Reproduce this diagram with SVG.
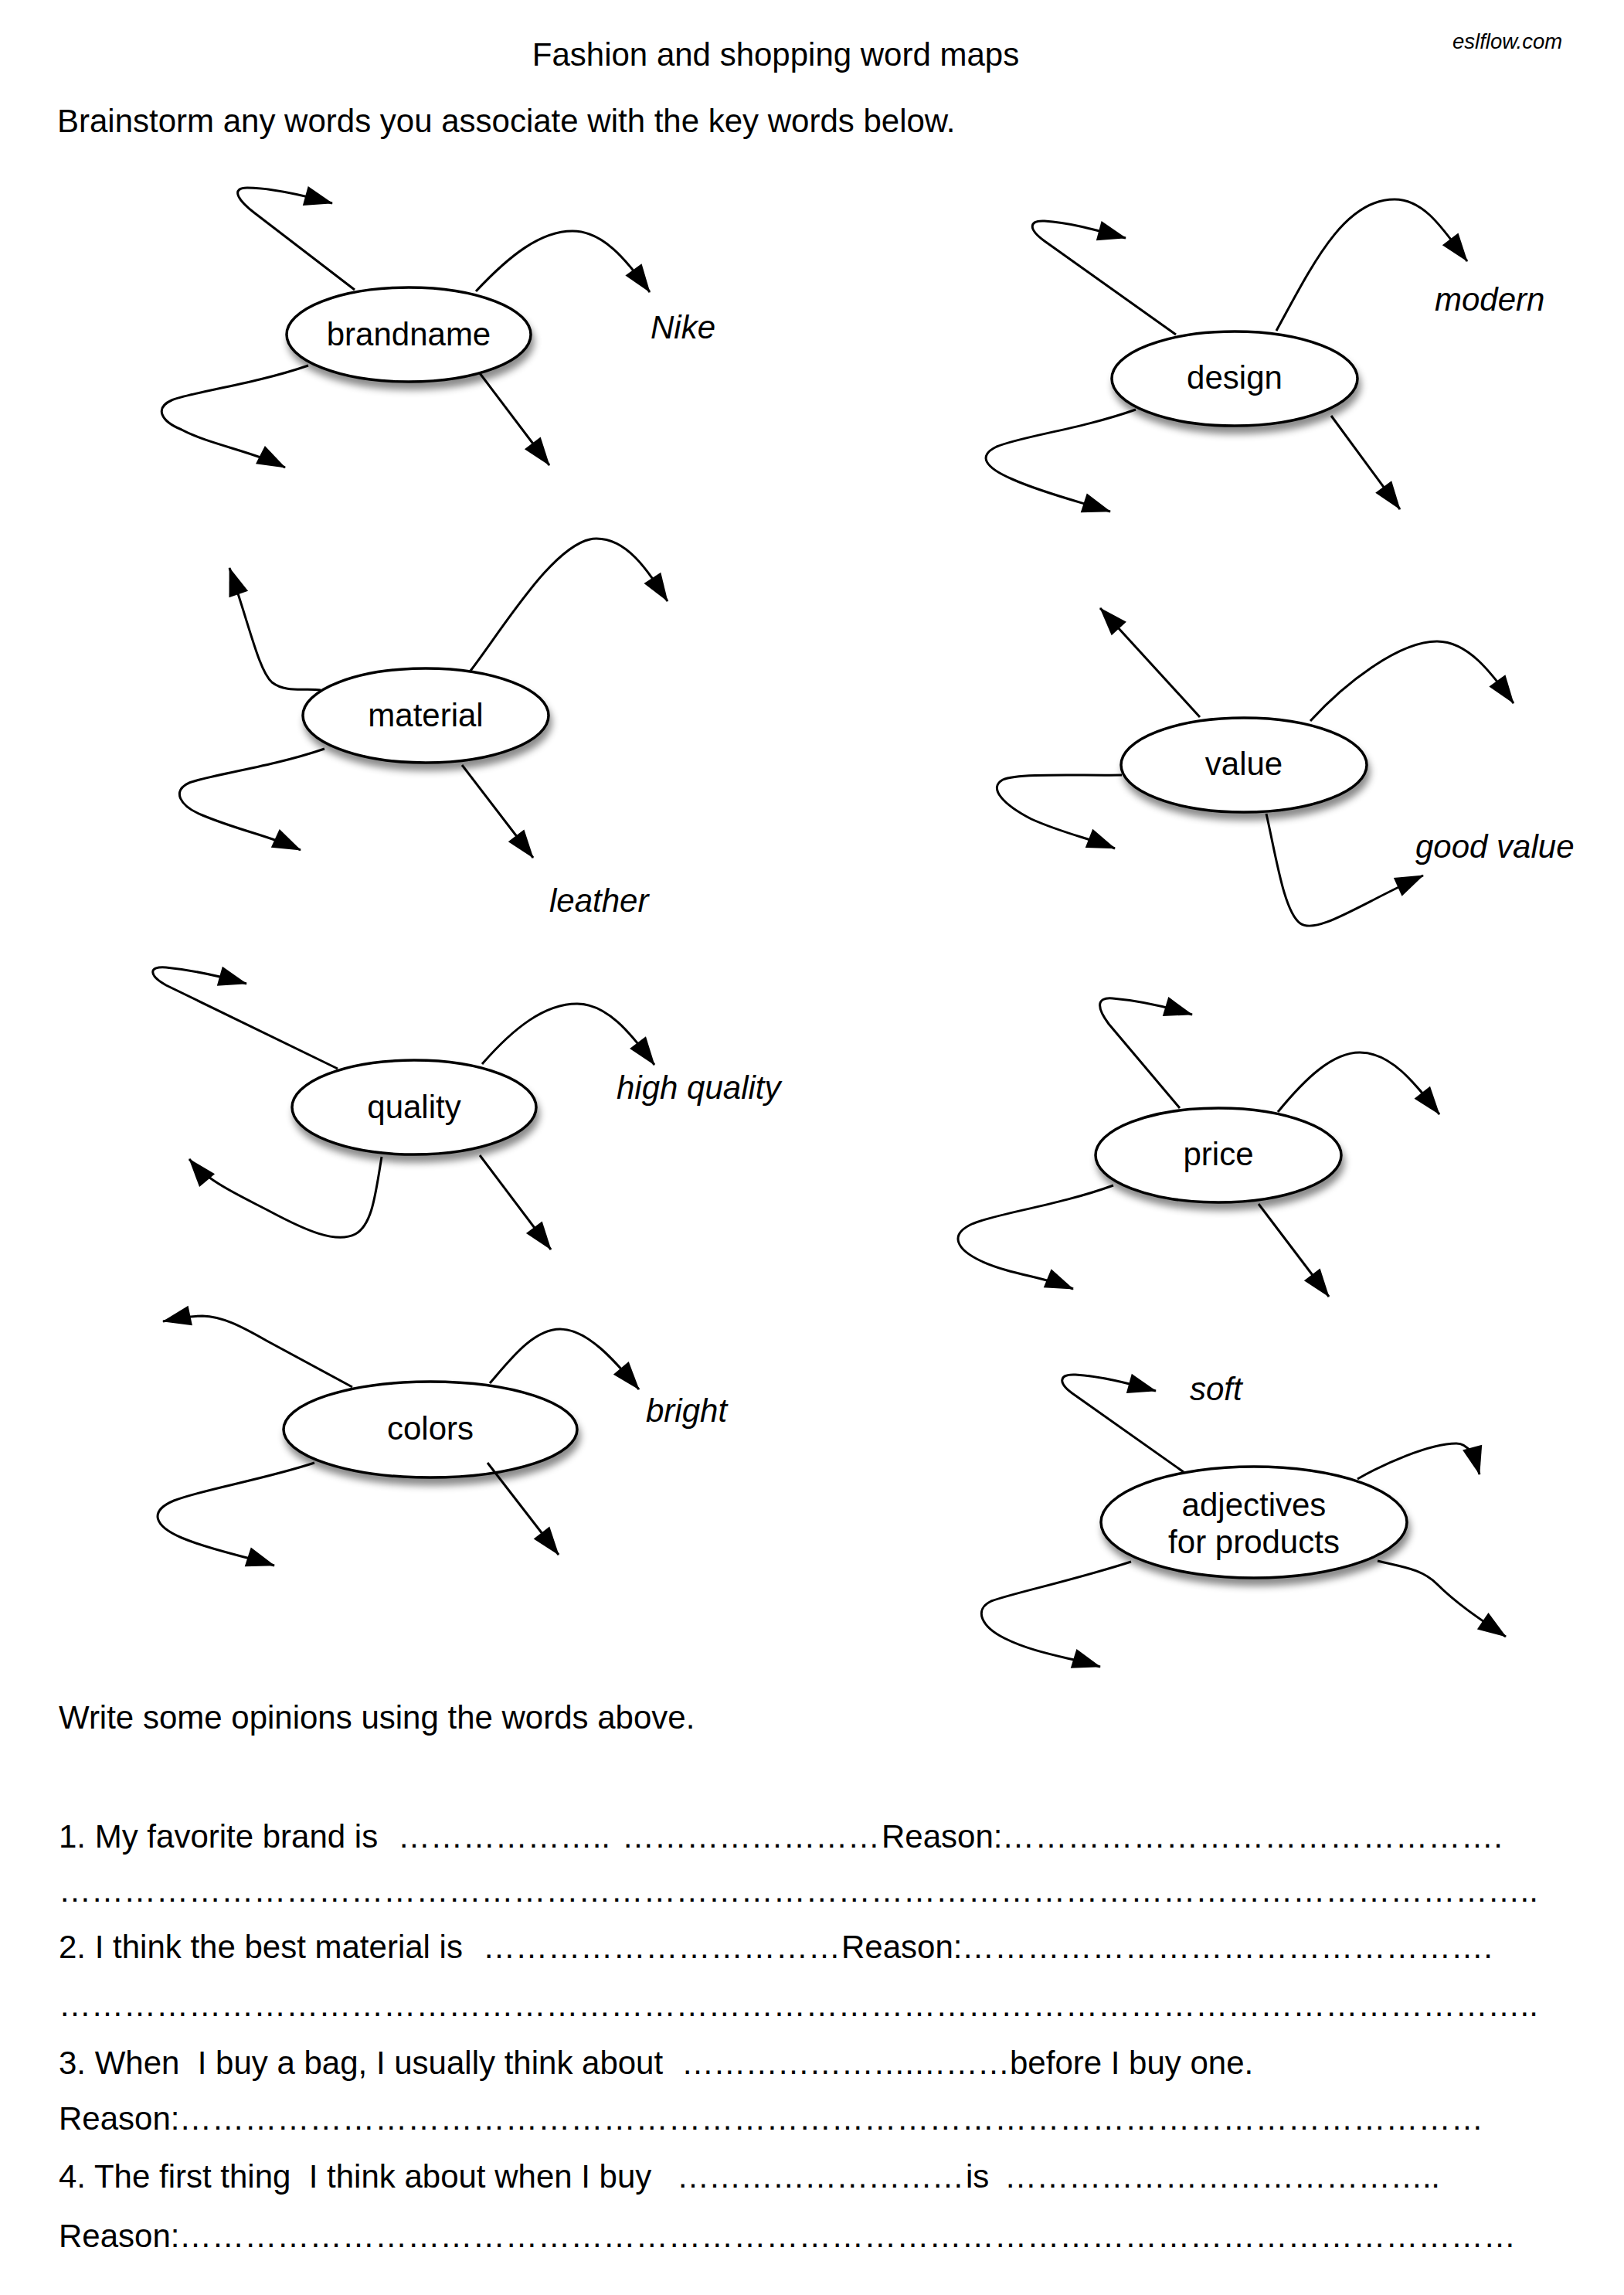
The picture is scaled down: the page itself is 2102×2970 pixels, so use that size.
<svg xmlns="http://www.w3.org/2000/svg" width="2102" height="2970" viewBox="0 0 2102 2970">
<style>
text{font-family:"Liberation Sans",Arial,Helvetica,sans-serif;font-size:42px;fill:#000}
.c{text-anchor:middle}
.it{font-style:italic}
.node ellipse{fill:#fff;stroke:#000;stroke-width:3.5;filter:url(#shadow)}
.conn path{fill:none;stroke:#000;stroke-width:3;marker-end:url(#ah)}
</style>
<defs>
<filter id="shadow" x="-20%" y="-20%" width="140%" height="170%">
<feDropShadow dx="3" dy="9" stdDeviation="5" flood-color="#000" flood-opacity="0.45"/>
</filter>
<marker id="ah" markerUnits="userSpaceOnUse" markerWidth="40" markerHeight="30" refX="36" refY="13" orient="auto" overflow="visible">
<path d="M0,0 L37,13 L0,26 z" fill="#000"/>
</marker>
</defs>
<rect width="2102" height="2970" fill="#fff"/>

<g id="header">
<text x="1004" y="85" class="c">Fashion and shopping word maps</text>
<text x="1880" y="63" class="it" style="font-size:27.5px">eslflow.com</text>
<text x="74" y="171">Brainstorm any words you associate with the key words below.</text>
</g>

<g id="node-brandname" class="node"><ellipse cx="529" cy="433" rx="158" ry="61"/><text x="529" y="447" class="c">brandname</text></g>
<g id="node-design" class="node"><ellipse cx="1598" cy="490" rx="159" ry="61"/><text x="1598" y="503" class="c">design</text></g>
<g id="node-material" class="node"><ellipse cx="551" cy="926" rx="159" ry="61"/><text x="551" y="940" class="c">material</text></g>
<g id="node-value" class="node"><ellipse cx="1610" cy="990" rx="159" ry="61"/><text x="1610" y="1003" class="c">value</text></g>
<g id="node-quality" class="node"><ellipse cx="536" cy="1433" rx="158" ry="61"/><text x="536" y="1447" class="c">quality</text></g>
<g id="node-price" class="node"><ellipse cx="1577" cy="1495" rx="159" ry="61"/><text x="1577" y="1508" class="c">price</text></g>
<g id="node-colors" class="node"><ellipse cx="557" cy="1850" rx="190" ry="62"/><text x="557" y="1863" class="c">colors</text></g>
<g id="node-adjectives" class="node"><ellipse cx="1623" cy="1970" rx="198" ry="72"/><text x="1623" y="1962" class="c">adjectives</text><text x="1623" y="2010" class="c">for products</text></g>

<g id="connectors" class="conn">
<path d="M459,375 L330,276 C305,257 300,243 320,243 C350,243 390,252 430,263"/>
<path d="M616,377 C660,330 700,299 741,299 C780,299 810,335 841,378"/>
<path d="M399,473 C330,497 245,508 222,518 C200,528 208,545 235,556 C270,575 330,585 369,605"/>
<path d="M621,483 L711,602"/>
<path d="M1522,433 L1352,312 C1330,296 1332,285 1352,286 C1385,288 1420,298 1457,308"/>
<path d="M1652,428 C1700,340 1740,258 1805,258 C1845,258 1870,300 1899,338"/>
<path d="M1470,530 C1400,555 1320,565 1290,578 C1265,590 1275,605 1310,620 C1350,638 1400,650 1437,662"/>
<path d="M1723,538 L1812,659"/>
<path d="M415,893 C395,890 370,897 352,883 C335,868 323,810 297,735"/>
<path d="M609,868 C650,815 720,697 772,697 C812,697 838,738 864,778"/>
<path d="M420,969 C350,993 270,1003 245,1013 C222,1023 232,1043 262,1055 C310,1075 350,1082 389,1100"/>
<path d="M598,990 L690,1110"/>
<path d="M1553,928 L1424,787"/>
<path d="M1696,933 C1740,885 1810,830 1860,830 C1900,830 1930,870 1959,910"/>
<path d="M1452,1003 C1400,1004 1318,1000 1298,1009 C1278,1020 1300,1042 1335,1060 C1375,1078 1410,1085 1443,1098"/>
<path d="M1639,1053 C1652,1110 1662,1180 1683,1195 C1705,1210 1760,1170 1842,1133"/>
<path d="M437,1383 L215,1275 C192,1262 192,1250 215,1252 C245,1255 280,1262 319,1273"/>
<path d="M624,1377 C665,1330 705,1299 747,1299 C785,1299 815,1335 847,1378"/>
<path d="M494,1497 C486,1545 482,1585 460,1597 C435,1610 395,1592 350,1568 C310,1547 270,1530 245,1500"/>
<path d="M621,1495 L713,1617"/>
<path d="M1527,1434 L1435,1325 C1420,1305 1418,1290 1440,1292 C1475,1295 1510,1303 1543,1313"/>
<path d="M1654,1439 C1690,1395 1725,1362 1760,1362 C1800,1362 1830,1400 1863,1442"/>
<path d="M1441,1534 C1370,1560 1290,1570 1258,1584 C1228,1598 1238,1617 1270,1632 C1310,1650 1350,1652 1389,1668"/>
<path d="M1629,1558 L1720,1678"/>
<path d="M456,1795 L345,1735 C310,1715 288,1704 262,1703 C245,1703 230,1706 211,1710"/>
<path d="M634,1790 C660,1760 690,1720 725,1720 C760,1720 795,1760 827,1798"/>
<path d="M407,1893 C340,1915 260,1928 225,1942 C192,1956 200,1975 235,1990 C275,2007 315,2013 355,2026"/>
<path d="M631,1893 L723,2012"/>
<path d="M1532,1905 L1392,1806 C1368,1790 1370,1778 1392,1779 C1425,1781 1460,1790 1496,1800"/>
<path d="M1757,1914 C1790,1895 1850,1868 1885,1868 C1900,1868 1908,1882 1915,1908"/>
<path d="M1783,2020 C1815,2028 1840,2030 1860,2050 C1885,2075 1915,2095 1949,2118"/>
<path d="M1464,2021 C1390,2045 1310,2062 1283,2072 C1260,2083 1270,2105 1300,2120 C1340,2140 1385,2145 1424,2157"/>
</g>

<g id="examples">
<text x="842" y="438" class="it">Nike</text>
<text x="1857" y="402" class="it">modern</text>
<text x="711" y="1180" class="it">leather</text>
<text x="1832" y="1110" class="it">good value</text>
<text x="798" y="1422" class="it">high quality</text>
<text x="836" y="1840" class="it">bright</text>
<text x="1540" y="1812" class="it">soft</text>
</g>

<g id="opinions">
<text x="76" y="2237">Write some opinions using the words above.</text>

<text x="76" y="2391">1. My favorite brand is</text>
<text x="515" y="2391" textLength="275" lengthAdjust="spacing">&#8230;&#8230;&#8230;&#8230;&#8230;&#8230;..</text>
<text x="805" y="2391" textLength="334" lengthAdjust="spacing">&#8230;&#8230;&#8230;&#8230;&#8230;&#8230;&#8230;&#8230;</text>
<text x="1141" y="2391">Reason:</text>
<text x="1297" y="2391" textLength="648" lengthAdjust="spacing">&#8230;&#8230;&#8230;&#8230;&#8230;&#8230;&#8230;&#8230;&#8230;&#8230;&#8230;&#8230;&#8230;&#8230;&#8230;.</text>

<text x="76" y="2461" textLength="1915" lengthAdjust="spacing">&#8230;&#8230;&#8230;&#8230;&#8230;&#8230;&#8230;&#8230;&#8230;&#8230;&#8230;&#8230;&#8230;&#8230;&#8230;&#8230;&#8230;&#8230;&#8230;&#8230;&#8230;&#8230;&#8230;&#8230;&#8230;&#8230;&#8230;&#8230;&#8230;&#8230;&#8230;&#8230;&#8230;&#8230;&#8230;&#8230;&#8230;&#8230;&#8230;&#8230;&#8230;&#8230;&#8230;&#8230;&#8230;..</text>

<text x="76" y="2534">2. I think the best material is</text>
<text x="625" y="2534" textLength="463" lengthAdjust="spacing">&#8230;&#8230;&#8230;&#8230;&#8230;&#8230;&#8230;&#8230;&#8230;&#8230;&#8230;</text>
<text x="1089" y="2534">Reason:</text>
<text x="1245" y="2534" textLength="687" lengthAdjust="spacing">&#8230;&#8230;&#8230;&#8230;&#8230;&#8230;&#8230;&#8230;&#8230;&#8230;&#8230;&#8230;&#8230;&#8230;&#8230;&#8230;.</text>

<text x="76" y="2609" textLength="1915" lengthAdjust="spacing">&#8230;&#8230;&#8230;&#8230;&#8230;&#8230;&#8230;&#8230;&#8230;&#8230;&#8230;&#8230;&#8230;&#8230;&#8230;&#8230;&#8230;&#8230;&#8230;&#8230;&#8230;&#8230;&#8230;&#8230;&#8230;&#8230;&#8230;&#8230;&#8230;&#8230;&#8230;&#8230;&#8230;&#8230;&#8230;&#8230;&#8230;&#8230;&#8230;&#8230;&#8230;&#8230;&#8230;&#8230;&#8230;..</text>

<text x="76" y="2684" xml:space="preserve">3. When  I buy a bag, I usually think about</text>
<text x="882" y="2684" textLength="425" lengthAdjust="spacing">&#8230;&#8230;&#8230;&#8230;&#8230;&#8230;&#8230;.&#8230;&#8230;&#8230;</text>
<text x="1307" y="2684">before I buy one.</text>

<text x="76" y="2756">Reason:</text>
<text x="232" y="2756" textLength="1688" lengthAdjust="spacing">&#8230;&#8230;&#8230;&#8230;&#8230;&#8230;&#8230;&#8230;&#8230;&#8230;&#8230;&#8230;&#8230;&#8230;&#8230;&#8230;&#8230;&#8230;&#8230;&#8230;&#8230;&#8230;&#8230;&#8230;&#8230;&#8230;&#8230;&#8230;&#8230;&#8230;&#8230;&#8230;&#8230;&#8230;&#8230;&#8230;&#8230;&#8230;&#8230;&#8230;</text>

<text x="76" y="2831" xml:space="preserve">4. The first thing  I think about when I buy</text>
<text x="876" y="2831" textLength="372" lengthAdjust="spacing">&#8230;&#8230;&#8230;&#8230;&#8230;&#8230;&#8230;&#8230;&#8230;</text>
<text x="1250" y="2831">is</text>
<text x="1300" y="2831" textLength="564" lengthAdjust="spacing">&#8230;&#8230;&#8230;&#8230;&#8230;&#8230;&#8230;&#8230;&#8230;&#8230;&#8230;&#8230;&#8230;..</text>

<text x="76" y="2908">Reason:</text>
<text x="232" y="2908" textLength="1730" lengthAdjust="spacing">&#8230;&#8230;&#8230;&#8230;&#8230;&#8230;&#8230;&#8230;&#8230;&#8230;&#8230;&#8230;&#8230;&#8230;&#8230;&#8230;&#8230;&#8230;&#8230;&#8230;&#8230;&#8230;&#8230;&#8230;&#8230;&#8230;&#8230;&#8230;&#8230;&#8230;&#8230;&#8230;&#8230;&#8230;&#8230;&#8230;&#8230;&#8230;&#8230;&#8230;&#8230;</text>
</g>
</svg>
